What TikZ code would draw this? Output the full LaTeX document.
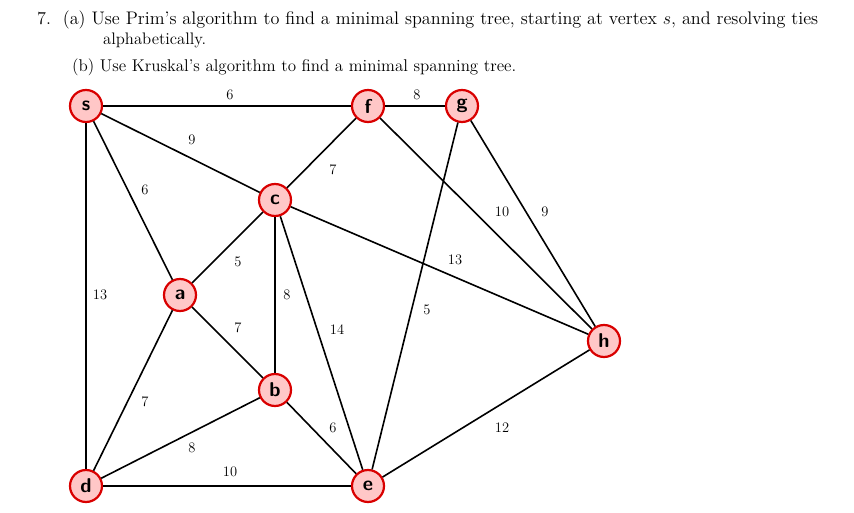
\documentclass[tikz,border=0pt]{standalone}
\usepackage{graphicx}
\begin{document}
\begin{tikzpicture}[x=1pt,y=-1pt,
  vtx/.style={circle,draw=red!85!black,line width=2.2pt,fill=red!22,minimum size=32pt,inner sep=0pt,font=\sffamily\bfseries\fontsize{20}{20}\selectfont},
  edge/.style={line width=1.6pt},
  lbl/.style={font=\fontsize{14.5}{14.5}\selectfont},
  txt/.style={anchor=west,font=\fontsize{14.6}{18}\selectfont,inner sep=0pt}]
\useasboundingbox (0,0) rectangle (854,513);
\node[txt] (t1) at (37,20) {\resizebox{781pt}{!}{7.\ \ (a)\ Use Prim's algorithm to find a minimal spanning tree, starting at vertex $s$, and resolving ties}};
\node[txt] (t2) at (103,40) {\resizebox{103pt}{!}{alphabetically.}};
\node[txt] (t3) at (72,67) {\resizebox{444pt}{!}{(b)\ Use Kruskal's algorithm to find a minimal spanning tree.}};
\node[vtx] (s) at (86,106) {s};
\node[vtx] (f) at (368,106) {f};
\node[vtx] (g) at (462,106) {g};
\node[vtx] (c) at (275,200) {c};
\node[vtx] (a) at (180,295) {a};
\node[vtx] (b) at (275,390) {b};
\node[vtx] (h) at (604,341) {h};
\node[vtx] (d) at (86,486) {d};
\node[vtx] (e) at (368,486) {e};
\draw[edge] (s)--(f); \draw[edge] (f)--(g); \draw[edge] (s)--(c); \draw[edge] (s)--(a);
\draw[edge] (f)--(c); \draw[edge] (c)--(a); \draw[edge] (c)--(b); \draw[edge] (c)--(e);
\draw[edge] (c)--(h); \draw[edge] (f)--(h); \draw[edge] (g)--(h); \draw[edge] (g)--(e);
\draw[edge] (s)--(d); \draw[edge] (a)--(b); \draw[edge] (a)--(d); \draw[edge] (b)--(d);
\draw[edge] (b)--(e); \draw[edge] (d)--(e); \draw[edge] (h)--(e);
\node[lbl] (l1) at (230,95) {6};
\node[lbl] (l2) at (417,95) {8};
\node[lbl] (l3) at (192,140) {9};
\node[lbl] (l4) at (145,190) {6};
\node[lbl] (l5) at (333,170) {7};
\node[lbl] (l6) at (238,262) {5};
\node[lbl] (l7) at (287,295) {8};
\node[lbl] (l8) at (337,330) {14};
\node[lbl] (l9) at (455,260) {13};
\node[lbl] (l10) at (502,212) {10};
\node[lbl] (l11) at (545,212) {9};
\node[lbl] (l12) at (427,310) {5};
\node[lbl] (l13) at (100,295) {13};
\node[lbl] (l14) at (238,328) {7};
\node[lbl] (l15) at (145,402) {7};
\node[lbl] (l16) at (192,448) {8};
\node[lbl] (l17) at (333,428) {6};
\node[lbl] (l18) at (230,472) {10};
\node[lbl] (l19) at (502,428) {12};
\end{tikzpicture}
\end{document}
